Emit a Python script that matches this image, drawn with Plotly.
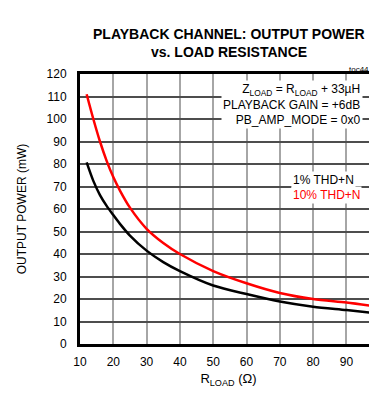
import plotly.graph_objects as go

# Data
r_load = [12, 14, 16, 18, 20, 22, 25, 30, 35, 40, 50, 60, 70, 80, 90, 100]
p_10pct = [111, 100, 90, 81.4, 74.2, 68.2, 60.6, 51.2, 44.9, 40, 32.4, 27, 22.7, 20, 18.4, 16.5]
p_1pct = [80.7, 72.5, 66.2, 61.4, 57.3, 53.4, 48.2, 41.5, 36.4, 32.4, 26, 22.2, 18.9, 16.6, 15.1, 13.5]

x_ticks = [10, 20, 30, 40, 50, 60, 70, 80, 90, 100]
y_ticks = list(range(0, 121, 10))

FONT = "Liberation Sans, Arial, sans-serif"

fig = go.Figure()
fig.add_trace(go.Scatter(x=r_load, y=p_1pct, mode="lines",
                         line=dict(color="black", width=2.5, shape="spline", smoothing=0.8),
                         showlegend=False))
fig.add_trace(go.Scatter(x=r_load, y=p_10pct, mode="lines",
                         line=dict(color="#ff0000", width=2.5, shape="spline", smoothing=0.8),
                         showlegend=False))

# page body has an 8px margin: figure drawn 8px right and down
L, R, T, B = 72, 0, 66, 44
W, H = 369, 380
plot_w = W - L - R
px_per_unit = 33.3 / 10
x_max = 10 + plot_w / px_per_unit

fig.update_layout(
    width=W, height=H,
    margin=dict(l=L, r=R, t=T, b=B, pad=0),
    paper_bgcolor="white", plot_bgcolor="white",
    font=dict(family=FONT, size=12, color="black"),
    xaxis=dict(range=[10, x_max], tickvals=x_ticks, showgrid=True, gridcolor="#a6a6a6", gridwidth=1.5,
               showline=True, linecolor="black", linewidth=3, mirror=True, ticks="", zeroline=False,
               ticklabelstandoff=5, tickfont=dict(size=12),
               title=dict(text="R<sub>LOAD</sub> (Ω)", font=dict(size=13), standoff=9)),
    yaxis=dict(range=[0, 120], tickvals=y_ticks, showgrid=True, gridcolor="#4d4d4d", gridwidth=1.5,
               showline=True, linecolor="black", linewidth=3, ticks="", zeroline=False,
               ticklabelstandoff=8, tickfont=dict(size=12),
               title=dict(text="OUTPUT POWER (mW)", font=dict(size=12), standoff=18)),
    annotations=[
        dict(text="<b>PLAYBACK CHANNEL: OUTPUT POWER</b>", xref="paper", yref="paper", x=0.5, y=1,
             yshift=40, showarrow=False, font=dict(size=14), xanchor="center", yanchor="middle"),
        dict(text="<b>vs. LOAD RESISTANCE</b>", xref="paper", yref="paper", x=0.5, y=1,
             yshift=22, showarrow=False, font=dict(size=14), xanchor="center", yanchor="middle"),
        dict(text="toc44", xref="paper", yref="paper", x=1, y=1, xshift=-6, yshift=5, showarrow=False,
             font=dict(size=8), xanchor="right", yanchor="middle"),
        dict(text="Z<sub>LOAD</sub> = R<sub>LOAD</sub> + 33µH<br>PLAYBACK GAIN = +6dB<br>PB_AMP_MODE = 0x0",
             xref="paper", yref="paper", x=1, y=1, xshift=-14, yshift=-6, showarrow=False, align="right",
             bgcolor="white", font=dict(size=12), xanchor="right", yanchor="top"),
        dict(text="1% THD+N", xref="paper", yref="paper", x=1, y=1, xshift=-86, yshift=-106,
             showarrow=False, bgcolor="white", font=dict(size=12), xanchor="left", yanchor="middle"),
        dict(text="10% THD+N", xref="paper", yref="paper", x=1, y=1, xshift=-86, yshift=-121,
             showarrow=False, bgcolor="white", font=dict(size=12, color="#ff0000"), xanchor="left",
             yanchor="middle"),
        dict(text=str(x_ticks[-1]), xref="paper", yref="paper", x=1, y=0, xshift=-7,
             yshift=-19, showarrow=False, font=dict(size=12), xanchor="left", yanchor="middle"),
    ],
)

fig.write_html("out.html")
